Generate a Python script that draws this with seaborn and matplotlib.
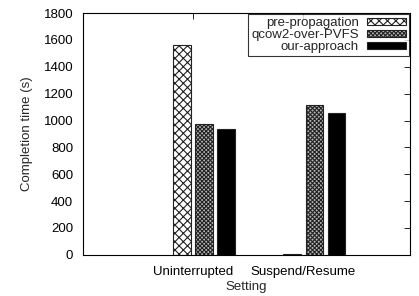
import pandas as pd
import seaborn as sns
import matplotlib.pyplot as plt

settings = ["Uninterrupted", "Suspend/Resume"]
approaches = ["pre-propagation", "qcow2-over-PVFS", "our-approach"]
pre_propagation = [1560, 8]
qcow2_over_pvfs = [972, 1118]
our_approach = [936, 1056]

datos = pd.DataFrame({
    "Setting": settings * 3,
    "Approach": [a for a in approaches for _ in settings],
    "time": pre_propagation + qcow2_over_pvfs + our_approach,
})

sns.set_style("white")
plt.rcParams["font.family"] = ["Liberation Sans", "DejaVu Sans"]
plt.rcParams["hatch.linewidth"] = 0.8

fig = plt.figure(figsize=(4.19, 2.96), dpi=100)
ax = fig.add_axes([0.198, 0.139, 0.781, 0.817])

sns.barplot(data=datos, x="Setting", y="time", hue="Approach",
            hue_order=approaches, order=settings,
            palette=["white", "#b4b4b4", "black"],
            width=0.6, gap=0.2, edgecolor="#222222", linewidth=0.8,
            ax=ax)

# tramas estilo gnuplot
tramas = ["xxxx", "xxxxxxxx", ""]
for contenedor, trama in zip(ax.containers, tramas):
    for barra in contenedor:
        barra.set_hatch(trama)
        barra.set_edgecolor("#222222")

ax.set_xticks([-0.1, 0.9])
ax.set_xticklabels(settings)
ax.set_xlim(-1.1, 1.87)
ax.set_ylim(0, 1800)
ax.set_yticks(range(0, 1801, 200))

ax.tick_params(axis="both", direction="in", length=4, width=0.6,
               labelsize=9.5, top=True, right=True, colors="black")
ax.tick_params(axis="y", pad=7)
ax.tick_params(axis="x", pad=8)
for s in ax.spines.values():
    s.set_visible(True)
    s.set_color("black")
    s.set_linewidth(0.8)

ax.set_ylabel("Completion time (s)", fontsize=9.5, labelpad=8)
ax.set_xlabel("Setting", fontsize=9.5, labelpad=2)

manejadores, etiquetas = ax.get_legend_handles_labels()
for h, trama in zip(manejadores, tramas):
    h.set_hatch(trama)
leg = ax.legend(manejadores, etiquetas, loc="upper right", fontsize=9.5,
                markerfirst=False, frameon=True, fancybox=False,
                handlelength=3.0, handleheight=0.5, labelspacing=0.0,
                borderpad=0.2, handletextpad=0.6, borderaxespad=0.1)
leg.get_frame().set_edgecolor("black")
leg.get_frame().set_linewidth(0.8)

fig.savefig("out.png", dpi=100)
